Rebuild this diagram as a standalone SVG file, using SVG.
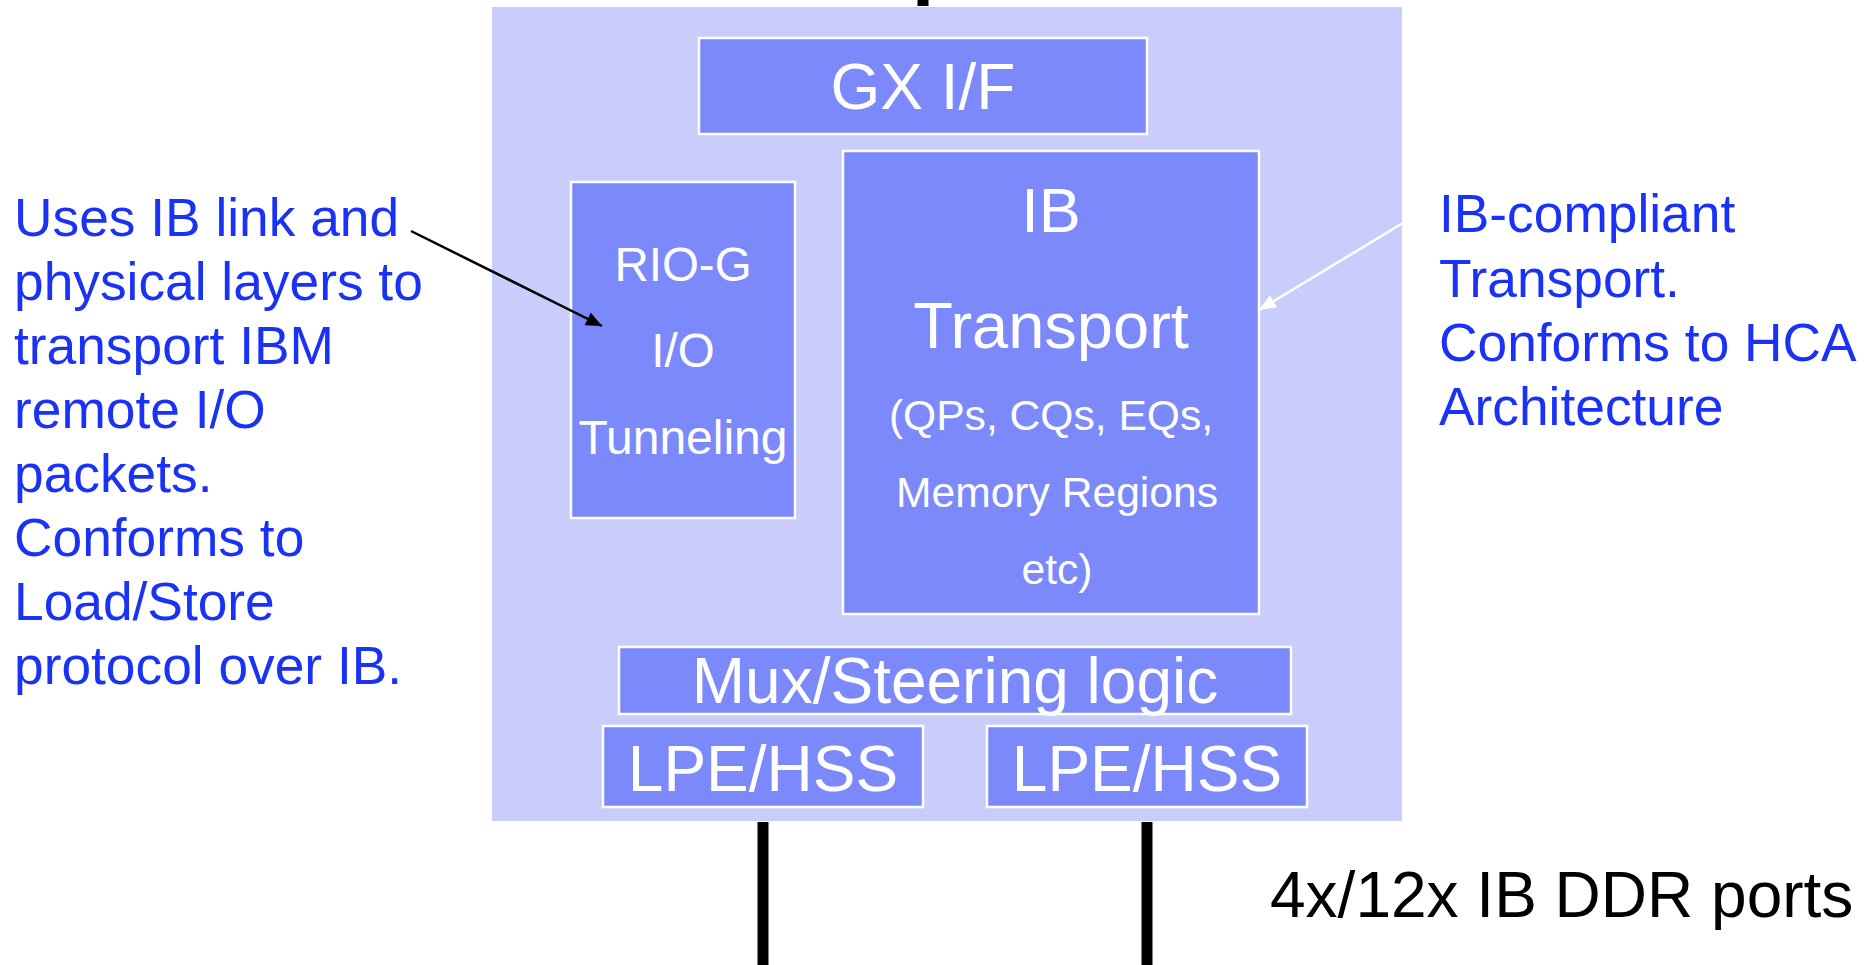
<svg xmlns="http://www.w3.org/2000/svg" width="1869" height="965" viewBox="0 0 1869 965">
  <style>
    .frame { fill: #c8cdfb; }
    .blk { fill: #7b89fb; stroke: #ffffff; stroke-width: 2.5; }
    .lbl { font-family: "Liberation Sans", Arial, sans-serif; fill: #ffffff; text-anchor: middle; }
    .note { font-family: "Liberation Sans", Arial, sans-serif; fill: #1a32f5; font-size: 53.3px; }
    .port { stroke: #000000; stroke-width: 11; }
  </style>
  <defs>
    <marker id="headBlack" viewBox="0 0 16 14" refX="16" refY="7" markerWidth="16" markerHeight="14" markerUnits="userSpaceOnUse" orient="auto">
      <path d="M0,0 L16,7 L0,14 Z" fill="#000000"/>
    </marker>
    <marker id="headWhite" viewBox="0 0 17 14" refX="17" refY="7" markerWidth="17" markerHeight="14" markerUnits="userSpaceOnUse" orient="auto">
      <path d="M0,0 L17,7 L0,14 Z" fill="#ffffff"/>
    </marker>
  </defs>

  <!-- HCA chip outline -->
  <g id="hca">
    <rect class="frame" x="492" y="7" width="910" height="814"/>
  </g>

  <g id="gx-if">
    <rect class="blk" x="699" y="38" width="448" height="96"/>
    <text class="lbl" x="923" y="109" font-size="64">GX I/F</text>
  </g>

  <g id="rio-g">
    <rect class="blk" x="571" y="182" width="224" height="336"/>
    <text class="lbl" x="683" y="281" font-size="47.5">RIO-G</text>
    <text class="lbl" x="683" y="367" font-size="47.5">I/O</text>
    <text class="lbl" x="683" y="454" font-size="48">Tunneling</text>
  </g>

  <g id="ib-transport">
    <rect class="blk" x="843" y="151" width="416" height="463"/>
    <text class="lbl" x="1051" y="232" font-size="63">IB</text>
    <text class="lbl" x="1051" y="348" font-size="65">Transport</text>
    <text class="lbl" x="1051" y="430" font-size="42.6">(QPs, CQs, EQs,</text>
    <text class="lbl" x="1057" y="507" font-size="42.6">Memory Regions</text>
    <text class="lbl" x="1057" y="584" font-size="42.6">etc)</text>
  </g>

  <g id="mux">
    <rect class="blk" x="619" y="647" width="672" height="67"/>
    <text class="lbl" x="955" y="703" font-size="64">Mux/Steering logic</text>
  </g>

  <g id="lpe-hss-1">
    <rect class="blk" x="603" y="726" width="320" height="81"/>
    <text class="lbl" x="763" y="791" font-size="64">LPE/HSS</text>
  </g>

  <g id="lpe-hss-2">
    <rect class="blk" x="987" y="726" width="320" height="81"/>
    <text class="lbl" x="1147" y="791" font-size="64">LPE/HSS</text>
  </g>

  <g id="note-rio">
    <text class="note">
      <tspan x="14" y="236">Uses IB link and</tspan>
      <tspan x="14" y="300">physical layers to</tspan>
      <tspan x="14" y="364">transport IBM</tspan>
      <tspan x="14" y="428">remote I/O</tspan>
      <tspan x="14" y="492">packets.</tspan>
      <tspan x="14" y="556">Conforms to</tspan>
      <tspan x="14" y="620">Load/Store</tspan>
      <tspan x="14" y="684">protocol over IB.</tspan>
    </text>
  </g>

  <g id="note-ib">
    <text class="note">
      <tspan x="1439" y="232">IB-compliant</tspan>
      <tspan x="1439" y="297">Transport.</tspan>
      <tspan x="1439" y="361">Conforms to HCA</tspan>
      <tspan x="1439" y="425">Architecture</tspan>
    </text>
  </g>

  <g id="ports-label">
    <text x="1270" y="917" font-family="Liberation Sans, Arial, sans-serif" font-size="64" fill="#000000">4x/12x IB DDR ports</text>
  </g>

  <g id="connectors">
    <!-- bus into GX interface -->
    <line class="port" x1="923" y1="0" x2="923" y2="6"/>
    <!-- IB ports out of the two LPE/HSS blocks -->
    <line class="port" x1="763" y1="822" x2="763" y2="965"/>
    <line class="port" x1="1147" y1="822" x2="1147" y2="965"/>
    <!-- callout arrows -->
    <line x1="411" y1="231" x2="602" y2="326" stroke="#000000" stroke-width="2.5" marker-end="url(#headBlack)"/>
    <line x1="1436" y1="203" x2="1259" y2="310" stroke="#ffffff" stroke-width="2.5" marker-end="url(#headWhite)"/>
  </g>
</svg>
